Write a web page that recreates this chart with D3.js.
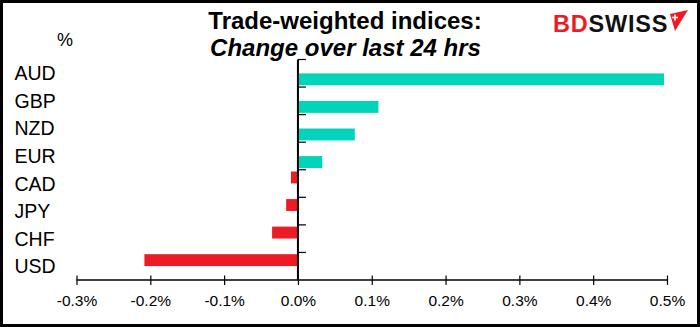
<!DOCTYPE html>
<html>
<head>
<meta charset="utf-8">
<script src="https://cdn.jsdelivr.net/npm/d3@7"></script>
<style>
  html, body { margin: 0; padding: 0; background: #fff; }
  svg { display: block; font-family: "Liberation Sans", Arial, sans-serif; }
</style>
</head>
<body>
<svg id="chart" width="700" height="327"></svg>
<script>
// Trade-weighted index moves over the last 24 hours, in percent
const currencies = ["AUD", "GBP", "NZD", "EUR", "CAD", "JPY", "CHF", "USD"];
const changes = [0.496, 0.109, 0.077, 0.033, -0.0095, -0.016, -0.035, -0.208];
const seriesNames = ["fall", "rise"];
const xTickValues = [-0.3, -0.2, -0.1, 0.0, 0.1, 0.2, 0.3, 0.4, 0.5];
const xTickLabels = ["-0.3%", "-0.2%", "-0.1%", "0.0%", "0.1%", "0.2%", "0.3%", "0.4%", "0.5%"];

const W = 700, H = 327;
const svg = d3.select("#chart");
const colors = { rise: "#02d4b9", fall: "#ed1c24" };

// frame
svg.append("rect").attr("x", 1.5).attr("y", 1.5).attr("width", W - 3).attr("height", H - 3)
  .attr("fill", "#fff").attr("stroke", "#000").attr("stroke-width", 3);

const plot = { left: 76.5, right: 667, top: 59.5, bottom: 280 };

const x = d3.scaleLinear().domain([-0.3, 0.5]).range([plot.left, plot.right]);
const y = d3.scaleBand().domain(currencies).range([plot.top, plot.bottom])
  .paddingInner(0.11).paddingOuter(0.055);
const ySeries = d3.scaleBand().domain(seriesNames).range([0, y.bandwidth()]).padding(0.02);

const rows = currencies.map((c, i) => ({
  name: c, value: changes[i], series: changes[i] >= 0 ? "rise" : "fall"
}));

// bars
svg.append("g").selectAll("rect").data(rows).join("rect")
  .attr("x", d => x(Math.min(0, d.value)))
  .attr("width", d => Math.abs(x(d.value) - x(0)))
  .attr("y", d => y(d.name) + ySeries(d.series))
  .attr("height", ySeries.bandwidth())
  .attr("fill", d => colors[d.series]);

// x axis
const xAxis = svg.append("g").attr("transform", `translate(0,${plot.bottom})`)
  .call(d3.axisBottom(x).tickValues(xTickValues)
    .tickFormat((d, i) => xTickLabels[i]).tickSize(0).tickPadding(0));
xAxis.select(".domain").remove();
xAxis.append("line").attr("x1", plot.left).attr("x2", plot.right)
  .attr("stroke", "#000").attr("stroke-width", 1.5);
xAxis.selectAll(".tick line").attr("y1", -4.5).attr("y2", 5).attr("stroke", "#000").attr("stroke-width", 1.2);
xAxis.selectAll(".tick text").attr("y", 26).attr("dy", null)
  .attr("font-size", 15.5).attr("fill", "#000")
  .attr("font-family", "'Liberation Sans', Arial, sans-serif");

// category axis at zero
const gap = y.step() * y.paddingInner() / 2;
const boundaries = currencies.map(c => y(c) - gap);
const yAxis = svg.append("g");
yAxis.append("line").attr("x1", x(0)).attr("x2", x(0))
  .attr("y1", plot.top).attr("y2", plot.bottom)
  .attr("stroke", "#000").attr("stroke-width", 2);
yAxis.selectAll("line.tk").data(boundaries).join("line").attr("class", "tk")
  .attr("x1", x(0)).attr("x2", x(0) + 8)
  .attr("y1", d => d).attr("y2", d => d)
  .attr("stroke", "#000").attr("stroke-width", 1.2);

// category labels on the left
svg.append("g").selectAll("text").data(currencies).join("text")
  .attr("x", 14.5)
  .attr("y", d => y(d) + y.bandwidth() / 2 + 7)
  .attr("font-size", 19.5).attr("fill", "#000")
  .text(d => d);

// unit
svg.append("text").attr("x", 65).attr("y", 46).attr("text-anchor", "middle")
  .attr("font-size", 18).text("%");

// title
svg.append("text").attr("x", 345).attr("y", 28.5).attr("text-anchor", "middle")
  .attr("font-size", 24).attr("font-weight", "bold").text("Trade-weighted indices:");
svg.append("text").attr("x", 345.5).attr("y", 56).attr("text-anchor", "middle")
  .attr("font-size", 24).attr("font-weight", "bold").attr("font-style", "italic")
  .text("Change over last 24 hrs");

// brand mark
const logo = svg.append("g");
const brand = logo.append("text").attr("x", 553).attr("y", 31.7)
  .attr("font-size", 23.5).attr("font-weight", "bold").attr("letter-spacing", 0.8);
brand.append("tspan").attr("fill", "#ed1c24").text("BD");
brand.append("tspan").attr("fill", "#111").text("SWISS");
logo.append("path").attr("d", "M670,14 L688,10 L675,31 Z").attr("fill", "#ed1c24");
logo.append("path").attr("d", "M672,17.5 H678 M675,14.5 V20.5")
  .attr("stroke", "#fff").attr("stroke-width", 1.6);
</script>
</body>
</html>
